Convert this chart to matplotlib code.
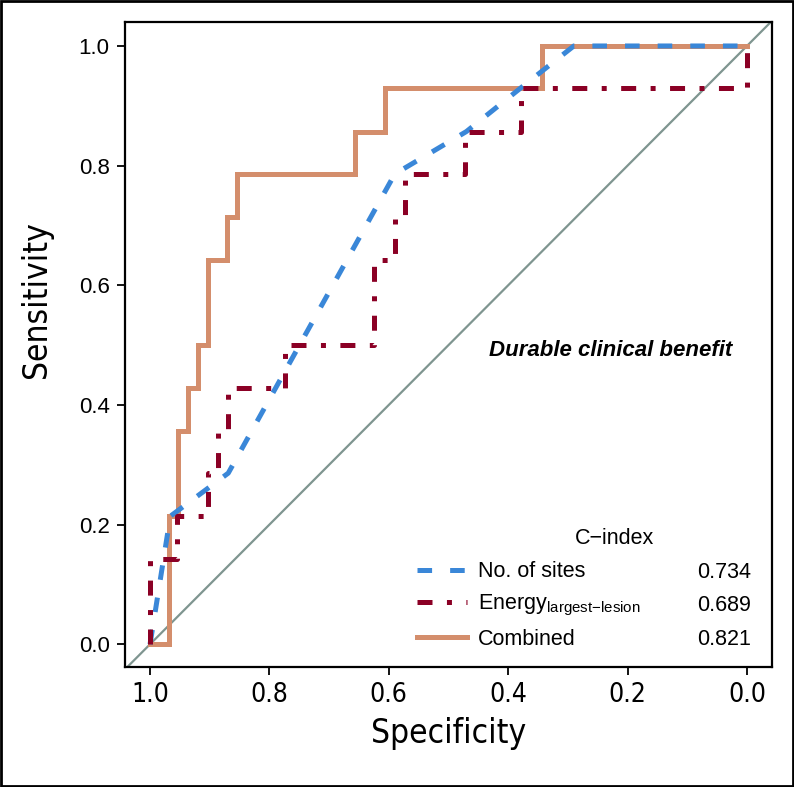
import matplotlib
matplotlib.use("Agg")
import matplotlib.pyplot as plt
from matplotlib import font_manager
from matplotlib.font_manager import FontProperties
from matplotlib.patches import Rectangle

# ROC coordinates (specificity, sensitivity)
sites_spec = [1.0, 0.966, 0.869, 0.59, 0.47, 0.38, 0.29, 0.0]
sites_sens = [0.0, 0.214, 0.286, 0.786, 0.857, 0.929, 1.0, 1.0]

energy_spec = [1.0, 1.0, 0.955, 0.955, 0.903, 0.903, 0.886, 0.886, 0.869, 0.869, 0.774, 0.774,
               0.625, 0.625, 0.590, 0.590, 0.573, 0.573, 0.472, 0.472, 0.379, 0.379, 0.0, 0.0]
energy_sens = [0.0, 0.143, 0.143, 0.214, 0.214, 0.286, 0.286, 0.357, 0.357, 0.429, 0.429, 0.5,
               0.5, 0.643, 0.643, 0.714, 0.714, 0.786, 0.786, 0.857, 0.857, 0.929, 0.929, 1.0]

combined_spec = [1.0, 0.968, 0.968, 0.953, 0.953, 0.936, 0.936, 0.920, 0.920, 0.903, 0.903,
                 0.871, 0.871, 0.854, 0.854, 0.657, 0.657, 0.606, 0.606, 0.343, 0.343, 0.0]
combined_sens = [0.0, 0.0, 0.214, 0.214, 0.357, 0.357, 0.429, 0.429, 0.5, 0.5, 0.643,
                 0.643, 0.714, 0.714, 0.786, 0.786, 0.857, 0.857, 0.929, 0.929, 1.0, 1.0]

series_labels = ["No. of sites", r"Energy$_{\mathregular{largest{-}lesion}}$", "Combined"]
c_index = ["0.734", "0.689", "0.821"]
ticks = [1.0, 0.8, 0.6, 0.4, 0.2, 0.0]

plt.rcParams["font.family"] = "Liberation Sans"
plt.rcParams["lines.scale_dashes"] = False


# look for a narrow sans font for the x ticks / axis titles (falls back to regular)
def narrow_font(size):
    for f in font_manager.fontManager.ttflist:
        nm = f.name + " " + f.fname
        if "Mono" in nm or "Serif" in nm or f.style != "normal" or f.weight not in (400, "normal", "regular"):
            continue
        if "Narrow" in nm or "Condensed" in nm or f.stretch in ("condensed", "semi-condensed"):
            return FontProperties(fname=f.fname, size=size)
    return FontProperties(family="Liberation Sans", size=size)


blue = "#3a87d8"
red = "#8b0025"
orange = "#d48e6c"
grey = "#7f9590"

fig = plt.figure(figsize=(7.94, 7.87), dpi=100)
ax = fig.add_axes([0.1574, 0.1525, 0.8149, 0.8195])

# chance line
ax.axline((1, 0), (0, 1), color=grey, lw=1.6, zorder=1)

ax.plot(sites_spec, sites_sens, color=blue, lw=3.6, dashes=(10.5, 13),
        dash_capstyle="butt", label=series_labels[0], zorder=3)
ax.plot(energy_spec, energy_sens, color=red, lw=3.6, dashes=(10.8, 10.4, 3.6, 10.4),
        dash_capstyle="butt", label=series_labels[1], zorder=4)
ax.plot(combined_spec, combined_sens, color=orange, lw=3.6, label=series_labels[2],
        solid_joinstyle="miter", zorder=2)

ax.set_xlim(1.042, -0.042)
ax.set_ylim(-0.038, 1.040)
ax.set_xticks(ticks)
ax.set_yticks(ticks)
ax.set_xticklabels([f"{t:.1f}" for t in ticks], fontproperties=narrow_font(19))
ax.set_yticklabels([f"{t:.1f}" for t in ticks], fontsize=16)
ax.tick_params(length=6, width=1.3, pad=5)
for s in ax.spines.values():
    s.set_linewidth(1.6)

ax.set_xlabel("Specificity", fontproperties=narrow_font(24), labelpad=6)
ax.set_ylabel("Sensitivity", fontproperties=narrow_font(24), labelpad=8)
ax.yaxis.set_label_coords(-0.112, 0.57)

ax.text(0.751, 0.491, "Durable clinical benefit", transform=ax.transAxes, ha="center",
        va="center", fontsize=16, fontweight="bold", fontstyle="italic")

# legend with C-index values
handles, labels = ax.get_legend_handles_labels()
leg = ax.legend(handles, labels, loc="center left", bbox_to_anchor=(0.452, 0.095),
                frameon=False, fontsize=15.5, handlelength=2.3, handletextpad=0.5,
                labelspacing=0.5, borderpad=0, borderaxespad=0)
ax.text(0.757, 0.199, "C\u2212index", transform=ax.transAxes, ha="center", va="center",
        fontsize=15.5)
for yy, v in zip([0.146, 0.095, 0.0425], c_index):
    ax.text(0.9675, yy, v, transform=ax.transAxes, ha="right", va="center", fontsize=15.5)

# outer frame around the whole figure
fig.patches.append(Rectangle((0.0015, 0.0015), 0.997, 0.997, transform=fig.transFigure,
                             fill=False, edgecolor="black", lw=2))

fig.savefig("out.png", dpi=100)
